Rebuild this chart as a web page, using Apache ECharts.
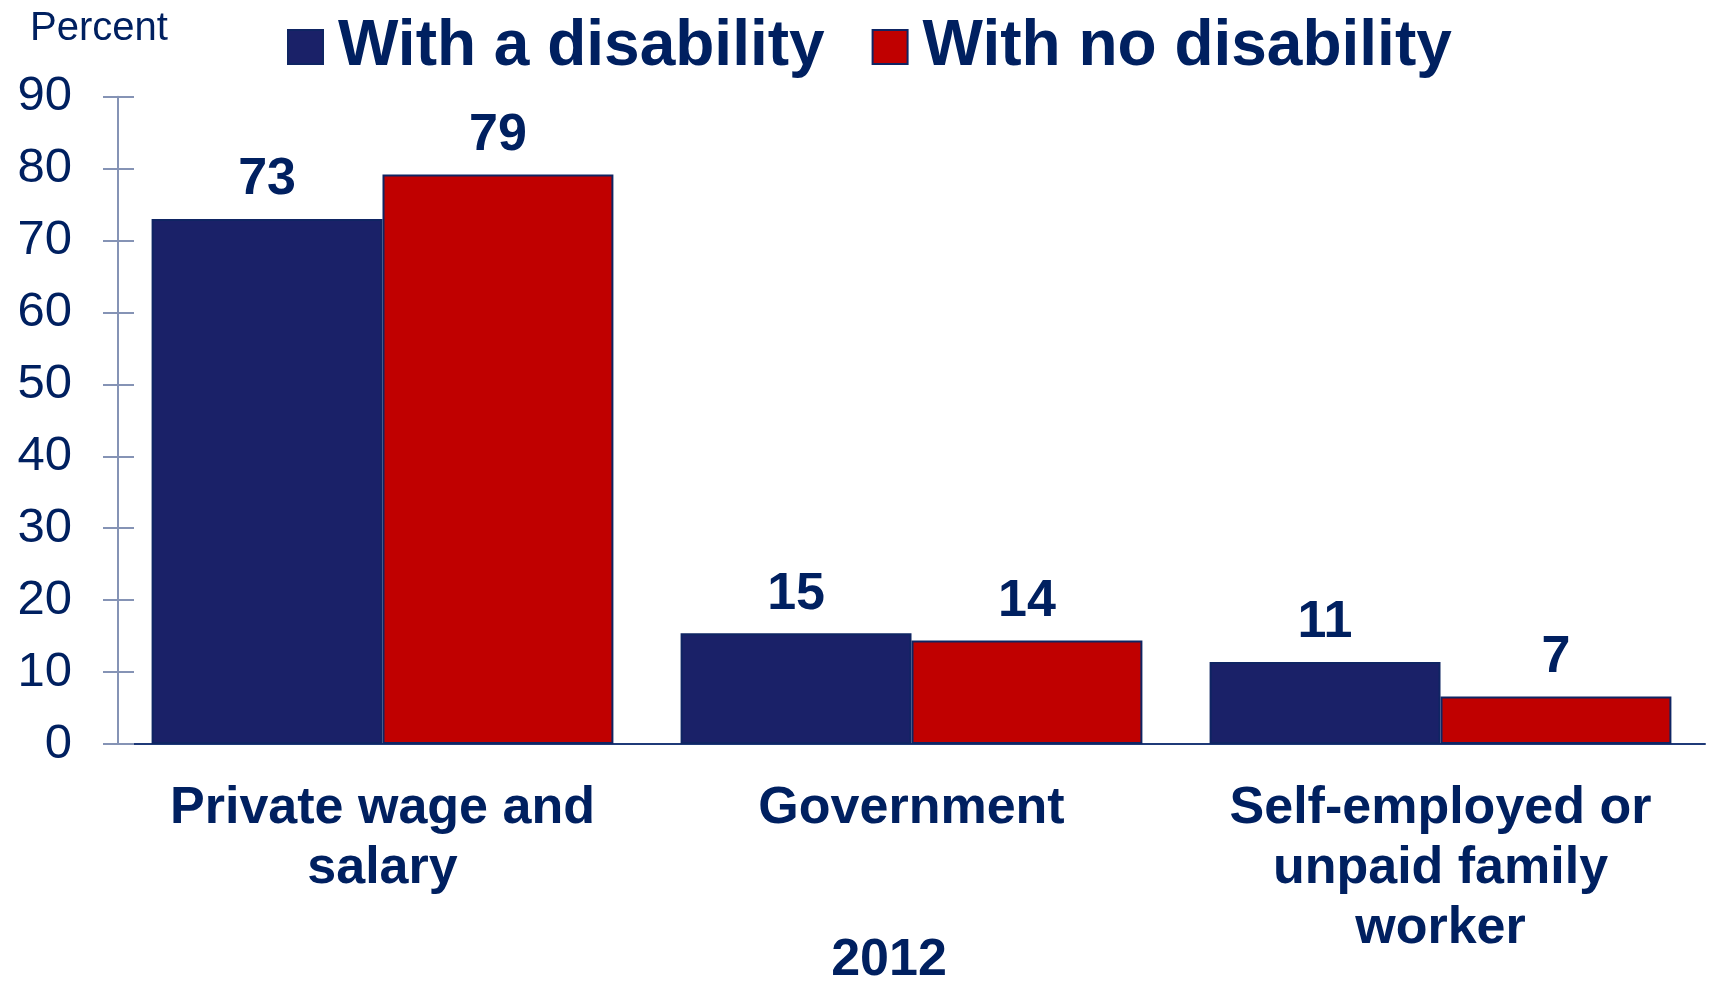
<!DOCTYPE html>
<html>
<head>
<meta charset="utf-8">
<script src="https://cdn.jsdelivr.net/npm/echarts@6/dist/echarts.min.js"></script>
<style>
  html, body { margin: 0; padding: 0; background: #ffffff; }
  #chart { width: 1710px; height: 984px; }
</style>
</head>
<body>
<div id="chart"></div>
<script>
const categories = ['Private wage and\nsalary', 'Government', 'Self-employed or\nunpaid family\nworker'];
const withDisability = [73.0, 15.4, 11.4];
const noDisability = [79.2, 14.4, 6.6];
const seriesNames = ['With a disability', 'With no disability'];
const yMin = 0, yMax = 90, yStep = 10;
const periodLabel = '2012';
const unitLabel = 'Percent';

const FONT = '"Liberation Sans", Arial, sans-serif';
const TEXT = '#002060';
const chart = echarts.init(document.getElementById('chart'), null, { renderer: 'canvas' });

const valueLabel = {
  show: true,
  position: 'top',
  distance: 13,
  color: TEXT,
  fontFamily: FONT,
  fontWeight: 'bold',
  fontSize: 52,
  lineHeight: 52,
  formatter: p => String(Math.round(p.value))
};

chart.setOption({
  animation: false,
  backgroundColor: '#ffffff',
  title: {
    text: unitLabel,
    left: 30,
    top: 9,
    padding: 0,
    textStyle: { color: TEXT, fontFamily: FONT, fontWeight: 'normal', fontSize: 40, lineHeight: 40 }
  },
  legend: {
    left: 287,
    top: 15,
    padding: 0,
    itemGap: 47,
    itemWidth: 35,
    itemHeight: 34,
    icon: 'rect',
    data: seriesNames,
    textStyle: { color: TEXT, fontFamily: FONT, fontWeight: 'bold', fontSize: 64, lineHeight: 64, padding: [0, 0, 0, 10] }
  },
  grid: { left: 118, right: 5, top: 96.7, bottom: 240, containLabel: false },
  xAxis: {
    type: 'category',
    data: categories,
    axisLine: { show: true, lineStyle: { color: '#1f3a78', width: 2 } },
    axisTick: { show: false },
    axisLabel: {
      color: TEXT, fontFamily: FONT, fontWeight: 'bold', fontSize: 52, lineHeight: 60, margin: 35, interval: 0
    },
    splitLine: { show: false }
  },
  yAxis: [
    {
      type: 'value', min: yMin, max: yMax, interval: yStep,
      axisLine: { show: true, lineStyle: { color: '#8593b5', width: 2 } },
      axisTick: { show: true, inside: false, length: 15, lineStyle: { color: '#8593b5', width: 2 } },
      axisLabel: { color: TEXT, fontFamily: FONT, fontSize: 49, margin: 46 },
      splitLine: { show: false }
    },
    {
      type: 'value', min: yMin, max: yMax, interval: yStep, position: 'left',
      axisLine: { show: false },
      axisTick: { show: true, inside: true, length: 16, lineStyle: { color: '#8593b5', width: 2 } },
      axisLabel: { show: false },
      splitLine: { show: false }
    }
  ],
  series: [
    {
      name: seriesNames[0], type: 'bar', data: withDisability,
      barGap: '0%', barCategoryGap: '12.7%',
      itemStyle: { color: '#1a2168', borderColor: '#0f2563', borderWidth: 2 },
      label: valueLabel
    },
    {
      name: seriesNames[1], type: 'bar', data: noDisability,
      barGap: '0%', barCategoryGap: '12.7%',
      itemStyle: { color: '#c00000', borderColor: '#0f2563', borderWidth: 2 },
      label: valueLabel
    }
  ],
  graphic: [
    {
      type: 'text',
      x: 889, y: 961,
      style: {
        text: periodLabel, fill: TEXT, font: 'bold 52px ' + FONT,
        align: 'center', verticalAlign: 'middle'
      }
    }
  ]
});
</script>
</body>
</html>
